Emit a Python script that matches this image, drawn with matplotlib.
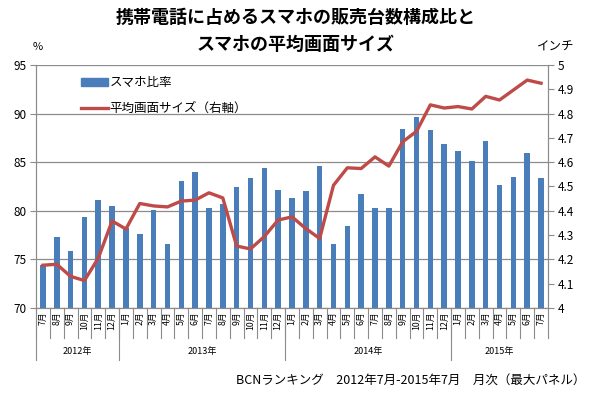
import matplotlib
matplotlib.use("Agg")
import matplotlib.pyplot as plt
from matplotlib.patches import Patch
from matplotlib.lines import Line2D
import matplotlib.transforms as mtransforms

plt.rcParams['font.family'] = ['Noto Sans CJK JP', 'DejaVu Sans']

# data: 2012/7 .. 2015/7
months = ['7月', '8月', '9月', '10月', '11月', '12月',
          '1月', '2月', '3月', '4月', '5月', '6月', '7月', '8月', '9月', '10月', '11月', '12月',
          '1月', '2月', '3月', '4月', '5月', '6月', '7月', '8月', '9月', '10月', '11月', '12月',
          '1月', '2月', '3月', '4月', '5月', '6月', '7月']
years = ['2012年', '2013年', '2014年', '2015年']
year_counts = [6, 12, 12, 7]
smartphone_share = [74.4, 77.3, 75.9, 79.4, 81.1, 80.5,
                    78.2, 77.6, 80.1, 76.6, 83.1, 84.0, 80.3, 80.7, 82.4, 83.4, 84.4, 82.1,
                    81.3, 82.0, 84.6, 76.6, 78.4, 81.7, 80.3, 80.3, 88.4, 89.7, 88.3, 86.9,
                    86.2, 85.1, 87.2, 82.7, 83.5, 85.9, 83.4]
screen_size = [4.176, 4.18, 4.13, 4.113, 4.205, 4.358,
               4.325, 4.43, 4.42, 4.416, 4.44, 4.444, 4.474, 4.453, 4.255, 4.243, 4.294, 4.362,
               4.375, 4.327, 4.286, 4.505, 4.577, 4.574, 4.622, 4.584, 4.684, 4.727, 4.836, 4.823,
               4.829, 4.819, 4.871, 4.856, 4.897, 4.938, 4.925]

bar_color = '#4A7EBB'
line_color = '#BE4B48'
grid_color = '#8C8C8C'

fig = plt.figure(figsize=(5.91, 3.94), dpi=100)
ax = fig.add_axes([0.0609, 0.2183, 0.8663, 0.6167])
ax2 = ax.twinx()

x = list(range(len(months)))
ax.bar(x, smartphone_share, width=0.4, color=bar_color, zorder=2)
ax2.plot(x, screen_size, color=line_color, lw=2.4, zorder=3)

ax.set_xlim(-0.5, len(months) - 0.5)
ax.set_ylim(70, 95)
ax.set_yticks([70, 75, 80, 85, 90, 95])
ax2.set_ylim(4, 5)
ax2.set_yticks([4 + i / 10 for i in range(11)])
ax2.set_yticklabels(['4'] + ['%.1f' % (4 + i / 10) for i in range(1, 10)] + ['5'])

ax.yaxis.grid(True, color=grid_color, lw=0.9, zorder=0)
ax.set_axisbelow(True)
ax.set_xticks([])
for a in (ax, ax2):
    a.spines['top'].set_visible(False)
    for s in ('left', 'right', 'bottom'):
        a.spines[s].set_color(grid_color)
    a.tick_params(axis='y', length=4, color=grid_color, labelsize=8.5, pad=3)

# category axis drawn by hand: month labels, separators, year row
trans = mtransforms.blended_transform_factory(ax.transData, ax.transAxes)
for i, m in enumerate(months):
    ax.text(i, -0.015, m, rotation=90, ha='center', va='top', fontsize=6.3,
            transform=trans)
for i in range(len(months) + 1):
    ax.plot([i - 0.5, i - 0.5], [0, -0.125], color=grid_color, lw=0.8,
            transform=trans, clip_on=False)
start = 0
for yr, n in zip(years, year_counts):
    ax.plot([start - 0.5, start - 0.5], [0, -0.215], color=grid_color, lw=0.8,
            transform=trans, clip_on=False)
    ax.text(start - 0.5 + n / 2, -0.178, yr, ha='center', va='center', fontsize=6.5,
            transform=trans)
    start += n

handles = [Patch(color=bar_color), Line2D([0], [0], color=line_color, lw=2.4)]
ax2.legend(handles, ['スマホ比率', '平均画面サイズ（右軸）'], loc='upper left',
           bbox_to_anchor=(0.065, 1.0), frameon=False, fontsize=9,
           handlelength=2.2, handleheight=0.6, labelspacing=1.0, handletextpad=0.1)

fig.text(0.5, 0.955, '携帯電話に占めるスマホの販売台数構成比と', ha='center', va='center',
         fontsize=13, fontweight='bold')
fig.text(0.5, 0.887, 'スマホの平均画面サイズ', ha='center', va='center',
         fontsize=13, fontweight='bold')
fig.text(0.064, 0.88, '%', ha='center', va='center', fontsize=8)
fig.text(0.94, 0.88, 'インチ', ha='center', va='center', fontsize=9)
fig.text(0.99, 0.035, 'BCNランキング　2012年7月-2015年7月　月次（最大パネル）',
         ha='right', va='center', fontsize=9)

fig.savefig('out.png', dpi=100)
